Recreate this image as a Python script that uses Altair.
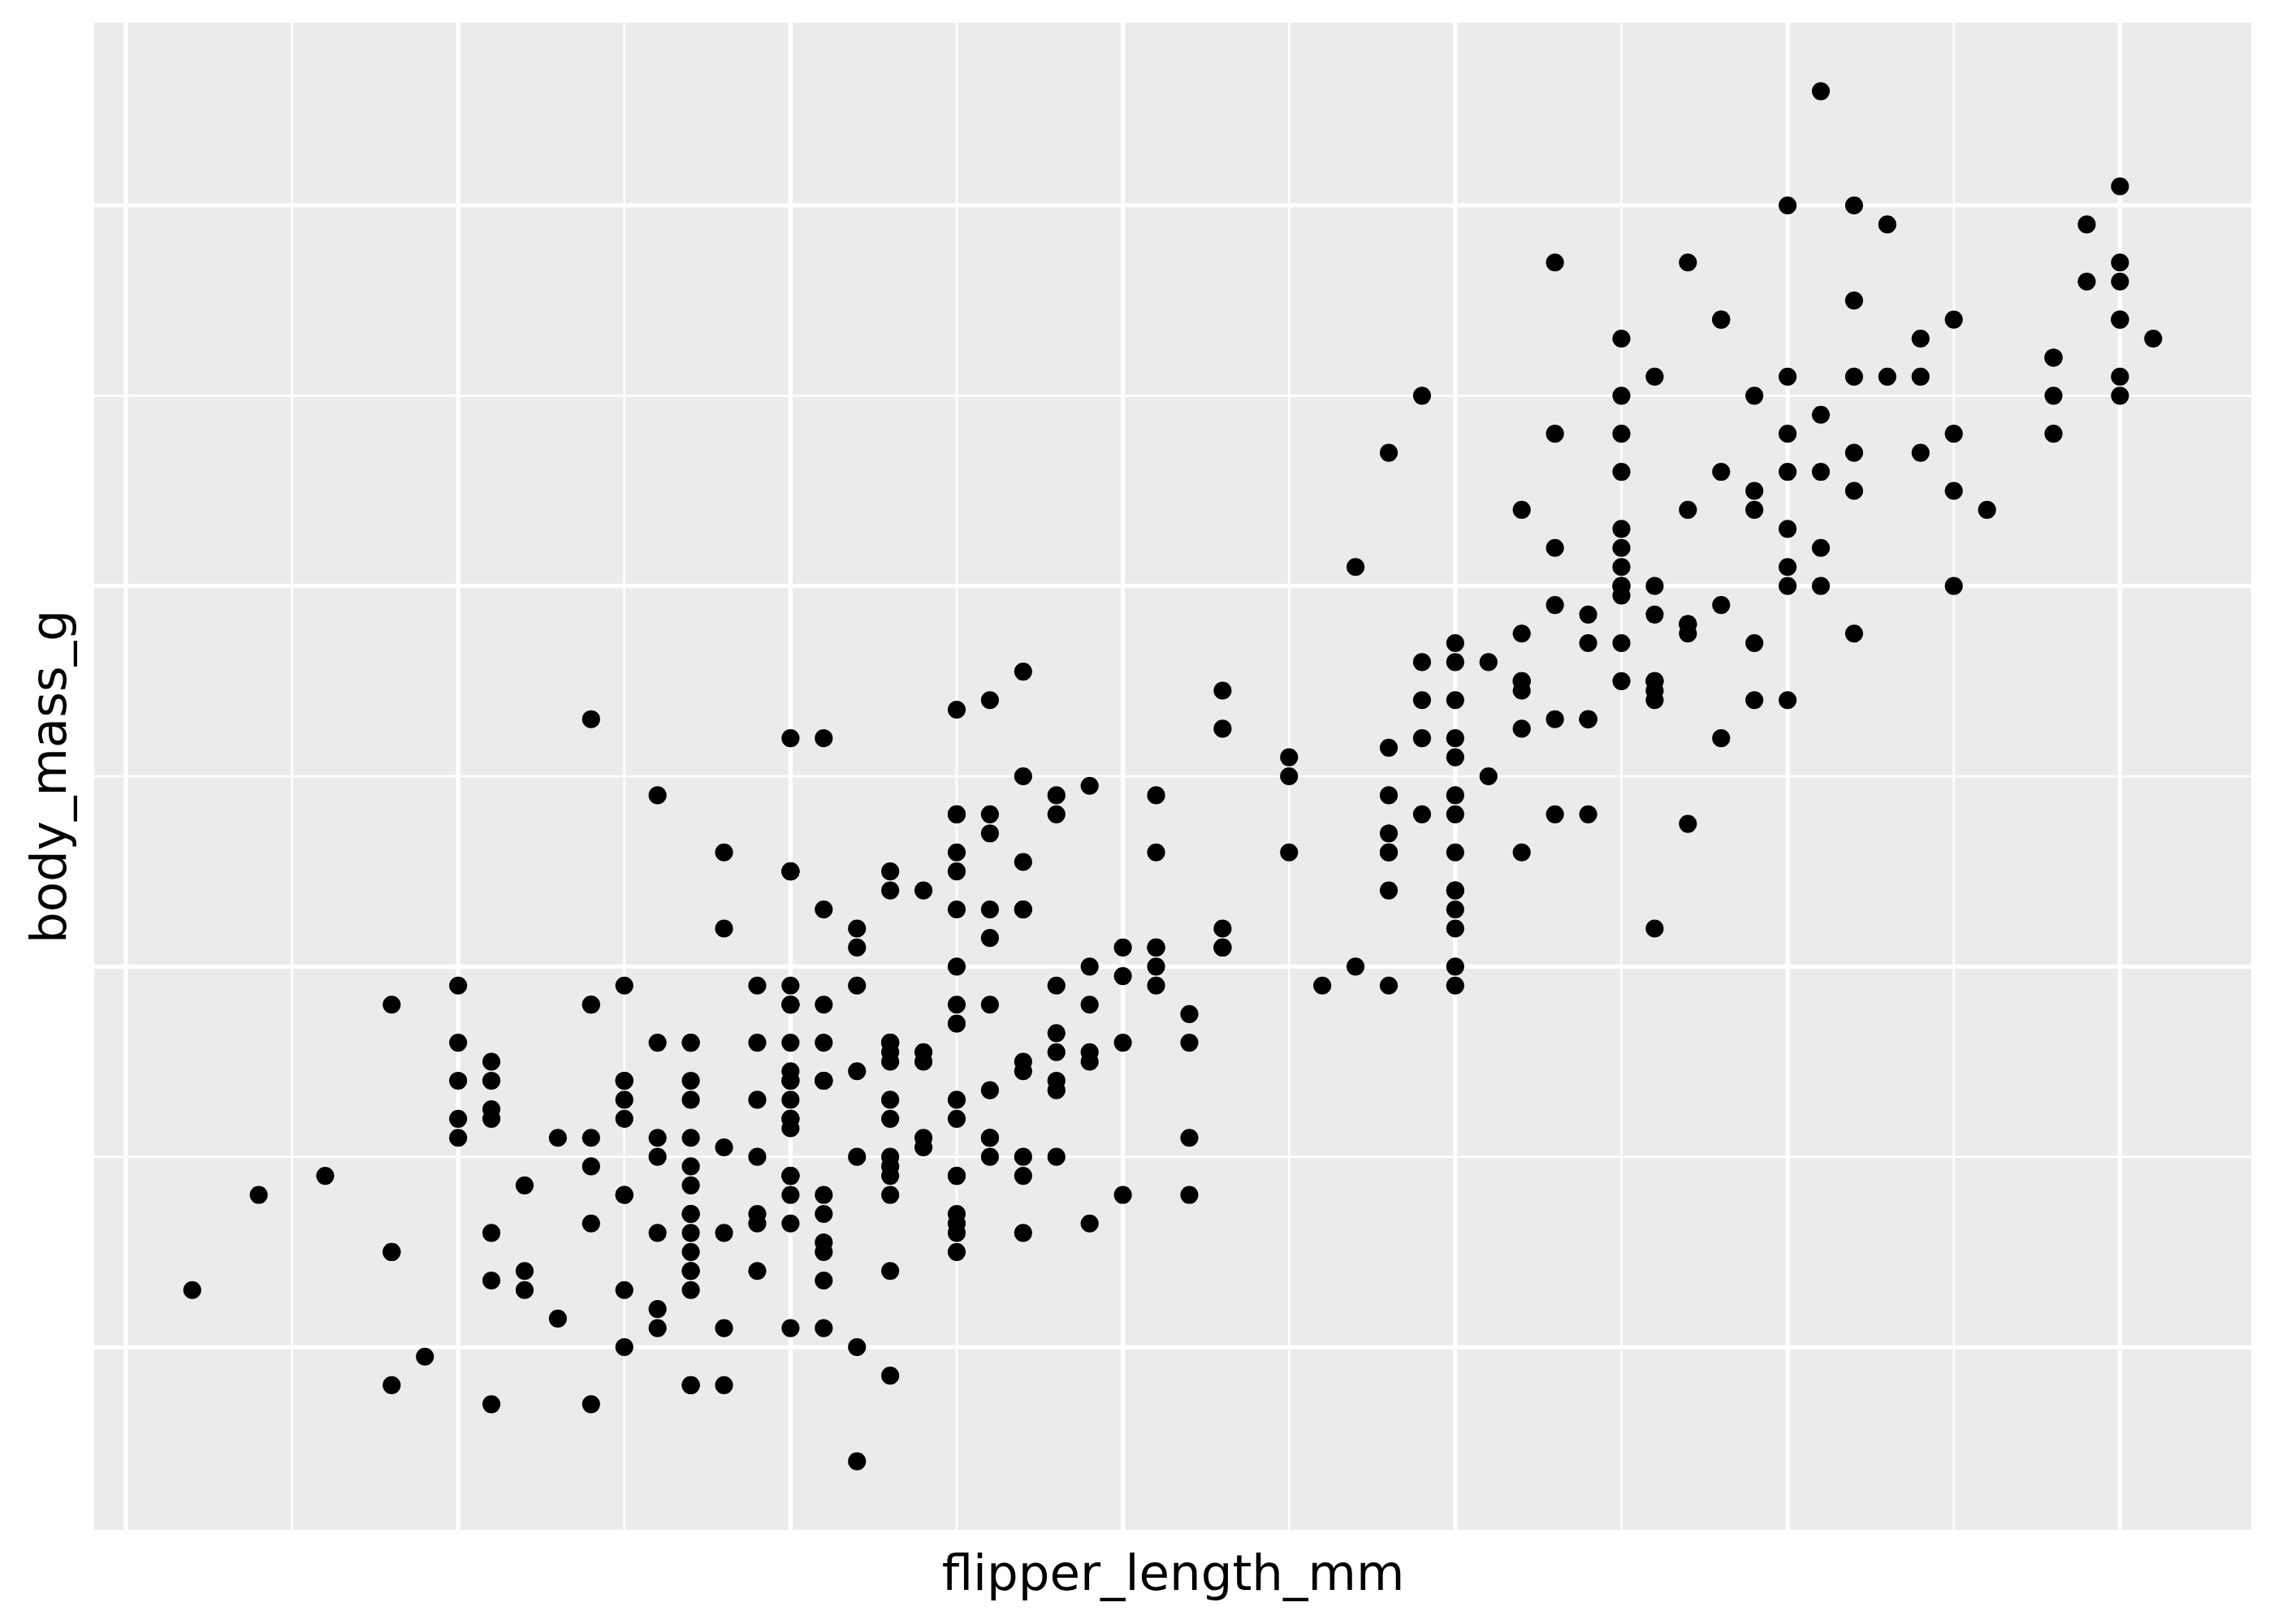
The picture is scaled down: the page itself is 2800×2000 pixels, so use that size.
import altair as alt
import pandas as pd

# Adelie
flipper_adelie = [181,186,195,193,190,181,195,193,190,186,180,182,191,198,185,195,197,184,194,174,
                  180,189,185,180,187,183,187,172,180,178,178,188,184,195,196,190,180,181,184,182,
                  195,186,196,185,190,182,179,190,191,186,188,190,200,187,191,186,193,181,194,185,
                  195,185,192,184,192,195,188,190,198,190,190,196,197,190,195,191,184,187,195,189,
                  196,187,193,191,194,190,189,189,190,202,205,185,186,187,208,190,196,178,192,192,
                  203,183,190,193,184,199,190,181,197,198,191,193,197,191,196,188,199,189,189,187,
                  198,176,202,186,199,191,195,191,210,190,197,193,199,187,190,191,200,185,193,193,
                  187,188,190,192,185,190,184,195,193,187,201]
mass_adelie = [3750,3800,3250,3450,3650,3625,4675,3475,4250,3300,3700,3200,3800,4400,3700,3450,4500,3325,4200,3400,
               3600,3800,3950,3800,3800,3550,3200,3150,3950,3250,3900,3300,3900,3325,4150,3950,3550,3300,4650,3150,
               3900,3100,4400,3000,4600,3425,2975,3450,4150,3500,4300,3450,4050,2900,3700,3550,3800,2850,3750,3150,
               4400,3600,4050,2850,3950,3350,4100,3050,4450,3600,3900,3550,4150,3700,4250,3700,3900,3550,4000,3200,
               4700,3800,4200,3350,3550,3800,3500,3950,3600,3550,4300,3400,4450,3300,4300,3700,4350,2900,4100,3725,
               4725,3075,4250,2925,3550,3750,3900,3175,4775,3825,4600,3200,4275,3900,4075,2900,3775,3350,3325,3150,
               3500,3450,3875,3050,4000,3275,4300,3050,4000,3325,3500,3500,4475,3425,3900,3175,3975,3400,4250,3400,
               3475,3050,3725,3000,3650,4250,3475,3450,3750,3700,4000]

# Chinstrap
flipper_chinstrap = [192,196,193,188,197,198,178,197,195,198,193,194,185,201,190,201,197,181,190,195,
                     181,191,187,193,195,197,200,200,191,205,187,201,187,203,195,199,195,210,192,205,
                     210,187,196,196,196,201,190,212,187,198,199,201,193,203,187,197,191,203,202,194,
                     206,189,195,207,202,193,210,198]
mass_chinstrap = [3500,3900,3650,3525,3725,3950,3250,3750,4150,3700,3800,3775,3700,4050,3575,4050,3300,3700,3450,4400,
                  3600,3400,2900,3800,3300,4150,3400,3800,3700,4550,3200,4300,3350,4100,3600,3900,3850,4800,2700,4500,
                  3950,3650,3550,3500,3675,4450,3400,4300,3250,3675,3325,3950,3600,4050,3350,3450,3250,4050,3800,3525,
                  3950,3650,3650,4000,3400,3775,4100,3775]

# Gentoo
flipper_gentoo = [211,230,210,218,215,210,211,219,209,215,214,216,214,213,210,217,210,221,209,222,
                  218,215,213,215,215,215,216,215,210,220,222,209,207,230,220,220,213,219,208,208,
                  208,225,210,216,222,217,210,225,213,215,210,220,210,225,217,220,208,220,208,224,
                  208,221,214,231,219,230,214,229,220,223,216,221,221,217,216,230,209,220,215,223,
                  212,221,212,224,212,228,218,218,212,230,218,228,212,224,214,226,216,222,203,225,
                  219,228,215,228,216,215,210,219,208,209,216,229,213,230,217,230,217,222,214,215,
                  222,212,213]
mass_gentoo = [4500,5700,4450,5700,5400,4550,4800,5200,4400,5150,4650,5550,4650,5850,4200,5850,4150,6300,4800,5350,
               5700,5000,4400,5050,5000,5100,4100,5650,4600,5550,5250,4700,5050,6050,5150,5400,4950,5250,4350,5350,
               3950,5700,4300,4750,5550,4900,4200,5400,5100,5300,4850,5300,4400,5000,4900,5050,4300,5000,4450,5550,
               4200,5300,4400,5650,4700,5700,4650,5800,4700,5550,4750,5000,5100,5200,4700,5800,4600,6000,4750,5950,
               4625,5450,4725,5350,4750,5600,4600,5300,4875,5550,4950,5400,4750,5650,4850,5200,4925,4875,4625,5250,
               4850,5600,4975,5500,4725,5500,4700,5500,4575,5500,5000,5950,4650,5500,4375,5850,4875,6000,4925,4850,
               5750,5200,5400]

x_major = [170, 180, 190, 200, 210, 220, 230]
x_minor = [175, 185, 195, 205, 215, 225]
y_major = [3000, 4000, 5000, 6000]
y_minor = [3500, 4500, 5500]

df = pd.DataFrame({
    "flipper_length_mm": flipper_adelie + flipper_chinstrap + flipper_gentoo,
    "body_mass_g": mass_adelie + mass_chinstrap + mass_gentoo,
})

xs = alt.Scale(domain=[169.05, 233.95], nice=False, zero=False)
ys = alt.Scale(domain=[2520, 6480], nice=False, zero=False)

x_axis = alt.Axis(labels=False, ticks=False, domain=False, grid=False,
                  title="flipper_length_mm", titleFont="DejaVu Sans", titleFontSize=61,
                  titleFontWeight="normal", titleColor="black",
                  titleBaseline="alphabetic", titleY=73)
y_axis = alt.Axis(labels=False, ticks=False, domain=False, grid=False,
                  title="body_mass_g", titleFont="DejaVu Sans", titleFontSize=61,
                  titleFontWeight="normal", titleColor="black",
                  titleBaseline="alphabetic", titleAngle=270, titleX=-36, titleY=928)

vminor = alt.Chart(pd.DataFrame({"flipper_length_mm": x_minor})).mark_rule(
    color="white", strokeWidth=2.7).encode(x=alt.X("flipper_length_mm:Q", scale=xs, axis=x_axis))
vmajor = alt.Chart(pd.DataFrame({"flipper_length_mm": x_major})).mark_rule(
    color="white", strokeWidth=5.3).encode(x=alt.X("flipper_length_mm:Q", scale=xs, axis=x_axis))
hminor = alt.Chart(pd.DataFrame({"body_mass_g": y_minor})).mark_rule(
    color="white", strokeWidth=2.7).encode(y=alt.Y("body_mass_g:Q", scale=ys, axis=y_axis))
hmajor = alt.Chart(pd.DataFrame({"body_mass_g": y_major})).mark_rule(
    color="white", strokeWidth=5.3).encode(y=alt.Y("body_mass_g:Q", scale=ys, axis=y_axis))

points = alt.Chart(df).mark_circle(size=490, color="black", opacity=1).encode(
    x=alt.X("flipper_length_mm:Q", scale=xs, axis=x_axis),
    y=alt.Y("body_mass_g:Q", scale=ys, axis=y_axis),
)

chart = alt.layer(hminor, vminor, hmajor, vmajor, points).properties(
    width=2656, height=1856,
    autosize=alt.AutoSizeParams(type="none"),
    padding={"left": 108, "top": 20, "right": 20, "bottom": 110},
    background="white",
).configure_view(stroke=None, fill="#EBEBEB")

chart.save("out.html", embed_options={"renderer": "svg", "actions": False})
